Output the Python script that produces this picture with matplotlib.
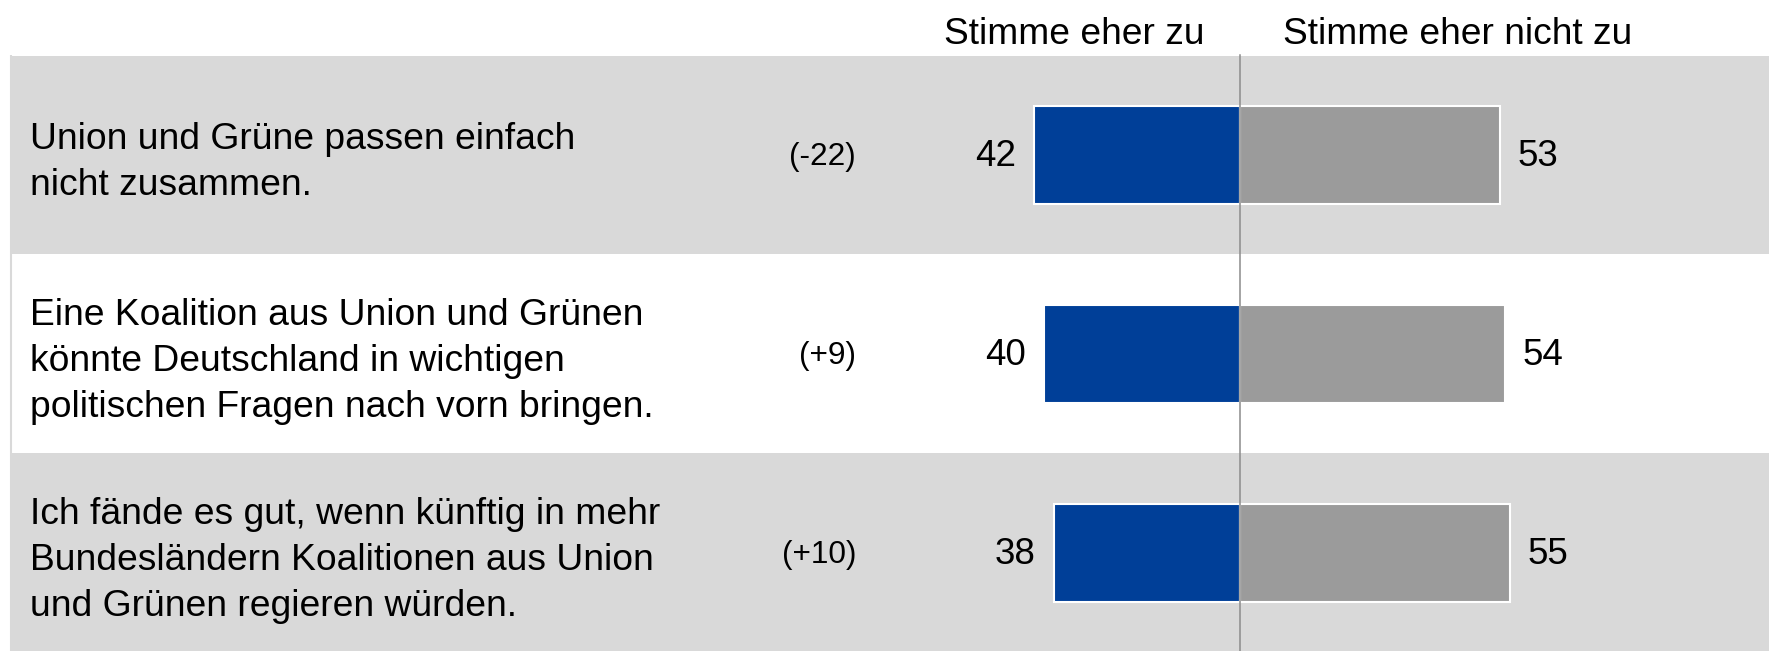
import matplotlib
matplotlib.use("Agg")
import matplotlib.pyplot as plt
from matplotlib.patches import Rectangle

# ---- data ----
statements = [
    "Union und Grüne passen einfach\nnicht zusammen.",
    "Eine Koalition aus Union und Grünen\nkönnte Deutschland in wichtigen\npolitischen Fragen nach vorn bringen.",
    "Ich fände es gut, wenn künftig in mehr\nBundesländern Koalitionen aus Union\nund Grünen regieren würden.",
]
changes = ["(-22)", "(+9)", "(+10)"]
agree = [42, 40, 38]
disagree = [53, 54, 55]
header_agree = "Stimme eher zu"
header_disagree = "Stimme eher nicht zu"

# ---- styling ----
BLUE = "#003F98"
GREY_BAR = "#9B9B9B"
BAND = "#D9D9D9"
LINE = "#8C8C8C"

plt.rcParams["font.family"] = ["Liberation Sans", "DejaVu Sans"]

W, H, DPI = 1769, 651, 100
fig = plt.figure(figsize=(W / DPI, H / DPI), dpi=DPI)
ax = fig.add_axes([0, 0, 1, 1])

# coordinate mapping: x in value units, y in row units
PXU = 4.9
X0 = 1240.0
ROW_H = 199.0
Y0 = 155.0
ax.set_xlim(-X0 / PXU, (W - X0) / PXU)
ax.set_ylim((H - Y0) / ROW_H, -Y0 / ROW_H)
ax.axis("off")

def px2x(px):
    return (px - X0) / PXU

def px2y(py):
    return (py - Y0) / ROW_H

n = len(statements)
x_left = px2x(10)
x_right = px2x(W)
for i in range(n):
    color = BAND if i % 2 == 0 else "white"
    ax.add_patch(Rectangle((x_left, i - 0.5), x_right - x_left, 1.0,
                           facecolor=color, edgecolor="none", zorder=0))
# left border line of table
ax.plot([x_left + 0.2, x_left + 0.2], [-0.5, n], color=BAND,
        lw=1.5, zorder=0.5, solid_capstyle="butt")

ypos = list(range(n))
bar_h = 0.49
ax.barh(ypos, [-a for a in agree], height=bar_h, color=BLUE,
        edgecolor="white", linewidth=1.5, zorder=2)
ax.barh(ypos, disagree, height=bar_h, color=GREY_BAR,
        edgecolor="white", linewidth=1.5, zorder=2)

# centre line
ax.plot([0, 0], [-0.5, n], color=LINE, lw=1.1, zorder=3)

fs_label = 26.8
fs_num = 26.5
fs_head = 26.7
fs_delta = 22.8
em_px = fs_label / 0.72
ls = 49.0 / (0.93 * em_px)

gap = 18.0 / PXU
for i in range(n):
    ax.text(px2x(30), i + 0.038, statements[i], ha="left", va="center",
            fontsize=fs_label, linespacing=ls, color="black", zorder=4)
    ax.text(px2x(856), i + 0.01, changes[i], ha="right", va="center",
            fontsize=fs_delta, color="black", zorder=4)
    ax.text(-agree[i] - gap, i + 0.01, str(agree[i]), ha="right", va="center",
            fontsize=fs_num, color="black", zorder=4)
    ax.text(disagree[i] + gap, i + 0.01, str(disagree[i]), ha="left", va="center",
            fontsize=fs_num, color="black", zorder=4)

ax.text(px2x(1205), px2y(44), header_agree, ha="right", va="baseline",
        fontsize=fs_head, color="black")
ax.text(px2x(1283), px2y(44), header_disagree, ha="left", va="baseline",
        fontsize=fs_head, color="black")

fig.savefig("out.png", dpi=DPI)
